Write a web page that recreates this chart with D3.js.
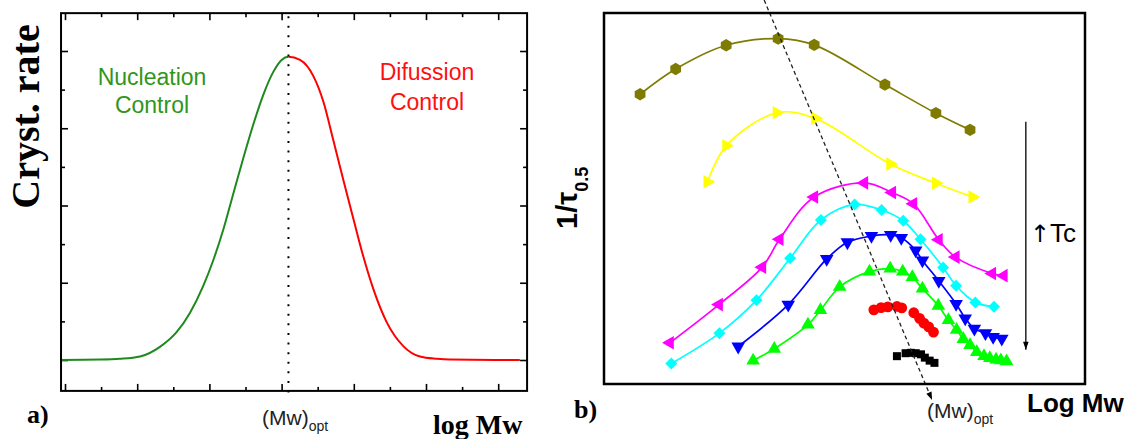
<!DOCTYPE html>
<html><head><meta charset="utf-8">
<script src="https://cdn.jsdelivr.net/npm/d3@7"></script>
<style>html,body{margin:0;padding:0;background:#fff;} svg{display:block;}</style>
</head><body>
<svg id="c" width="1132" height="439"></svg>
<script>
// ---------- Panel a) data ----------
const aXTicks = [0,1,2,3,4,5,6,7,8,9,10,11,12];
const aYTicks = [0,1,2,3,4,5,6,7,8];
const optLogMwA = 6.19;
const nuclLogMw = [-0.11,0.97,1.52,2.08,2.63,3.09,3.46,3.83,4.11,4.39,4.66,4.94,5.22,5.49,5.77,6.00,6.19];
const nuclRate  = [0,0.01,0.03,0.09,0.34,0.72,1.22,1.92,2.59,3.39,4.30,5.23,6.11,6.86,7.46,7.77,7.85];
const diffLogMw = [6.51,6.88,7.16,7.43,7.71,7.99,8.26,8.54,8.91,9.37,9.83,10.30,10.66,12.60];
const diffRate  = [7.77,7.35,6.68,5.70,4.66,3.65,2.69,1.84,0.98,0.36,0.09,0.03,0.01,0];

// ---------- Panel b) data ----------
const oliveX = [7.5,14.9,25.4,36.2,43.7,58.4,69.0,76.1];
const oliveY = [78.1,84.9,91.3,93.1,91.4,80.7,73.0,68.5];
const yellowX = [21.5,25.4,35.9,43.9,59.5,69.0,76.6];
const yellowY = [54.5,64.2,73.1,71.6,59.3,54.1,50.4];
const magentaX = [13.7,23.9,32.9,36.5,43.7,54.1,59.9,64.3,69.6,73.1,80.7,83.1];
const magentaY = [11.1,21.4,31.5,39.0,50.4,54.2,51.6,48.6,38.9,34.2,29.8,29.2];
const cyanX = [14.0,24.0,31.7,38.7,45.1,52.1,57.7,62.2,65.8,70.5,73.2,77.2,81.1];
const cyanY = [5.5,13.7,22.6,33.9,44.2,48.4,46.9,44.0,39.0,31.4,26.5,22.0,20.8];
const blueX = [27.9,38.3,46.3,50.6,55.6,59.6,61.8,64.8,66.2,69.6,73.2,75.1,77.0,79.3,80.9,82.7];
const blueY = [10.1,21.4,33.7,38.2,39.9,40.2,39.4,36.0,33.3,27.8,21.6,17.7,14.9,13.7,12.7,12.2];
const greenX = [31.0,35.4,42.4,45.0,49.0,55.2,59.5,62.1,64.1,66.2,69.5,71.6,73.3,74.7,76.1,77.5,79.0,80.2,81.5,82.5,83.7];
const greenY = [6.3,9.5,16.0,19.9,26.2,30.3,31.1,30.3,28.8,25.7,21.1,17.2,14.6,12.1,10.5,8.6,7.5,7.0,6.6,6.4,6.1];
const redX = [56.1,57.6,59.0,60.9,61.9,64.4,65.6,66.5,67.5,68.5];
const redY = [20.0,20.6,20.8,20.9,20.5,19.2,17.7,16.4,15.4,14.0];
const blackX = [60.9,62.7,63.8,64.8,65.9,66.7,67.7,68.7];
const blackY = [7.5,8.3,8.4,8.3,8.0,7.1,6.3,5.7];
const optTrendX = [33.3,68.2];
const optTrendY = [103.5,-4.3];
const tcArrowX = [87.7,87.7];
const tcArrowY = [70.7,9.2];

const svg = d3.select("#c");
svg.append("rect").attr("width",1132).attr("height",439).attr("fill","#fff");
const defs = svg.append("defs");

// =================== Panel a ===================
const xA = d3.scaleLinear().domain([0,12]).range([65,498.2]);
const yA = d3.scaleLinear().domain([0,8]).range([360,51]);
const fxA = [xA(-0.11), xA(12.8)], fyA = [yA(8.98), yA(-0.8)];
const gA = svg.append("g");

function ticksA(axisGen, vals, size, transform){
  const g = gA.append("g").attr("transform", transform)
    .call(axisGen.tickValues(vals).tickSize(size).tickFormat(""));
  g.select(".domain").remove();
  g.selectAll("line").attr("stroke","#000").attr("stroke-width",1.6);
}
const majX = aXTicks.filter((d,i)=>i%2===0), minX = aXTicks.filter((d,i)=>i%2===1);
const majY = aYTicks.filter((d,i)=>i%2===0), minY = aYTicks.filter((d,i)=>i%2===1);
ticksA(d3.axisBottom(xA), majX, -7, `translate(0,${fyA[1]})`);
ticksA(d3.axisBottom(xA), minX, -4, `translate(0,${fyA[1]})`);
ticksA(d3.axisTop(xA), majX, -7, `translate(0,${fyA[0]})`);
ticksA(d3.axisTop(xA), minX, -4, `translate(0,${fyA[0]})`);
ticksA(d3.axisLeft(yA), majY, -7, `translate(${fxA[0]},0)`);
ticksA(d3.axisLeft(yA), minY, -4, `translate(${fxA[0]},0)`);
ticksA(d3.axisRight(yA), majY, -7, `translate(${fxA[1]},0)`);
ticksA(d3.axisRight(yA), minY, -4, `translate(${fxA[1]},0)`);

// curve (one smooth path, coloured by clip on each side of the optimum)
const allX = nuclLogMw.concat(diffLogMw), allY = nuclRate.concat(diffRate);
const curvePts = allX.map((x,i)=>[x, allY[i]]);
const lineA = d3.line().x(d=>xA(d[0])).y(d=>yA(d[1])).curve(d3.curveMonotoneX);
defs.append("clipPath").attr("id","clipL").append("rect")
  .attr("x",0).attr("y",0).attr("width",xA(optLogMwA)).attr("height",439);
defs.append("clipPath").attr("id","clipR").append("rect")
  .attr("x",xA(optLogMwA)).attr("y",0).attr("width",1132).attr("height",439);
gA.append("path").datum(curvePts).attr("d",lineA).attr("fill","none")
  .attr("stroke","#1e8a1e").attr("stroke-width",2).attr("clip-path","url(#clipL)");
gA.append("path").datum(curvePts).attr("d",lineA).attr("fill","none")
  .attr("stroke","#ff0000").attr("stroke-width",2).attr("clip-path","url(#clipR)");

// dotted optimum line
gA.append("line").attr("x1",xA(optLogMwA)).attr("x2",xA(optLogMwA))
  .attr("y1",fyA[0]+3).attr("y2",400)
  .attr("stroke","#000").attr("stroke-width",2).attr("stroke-dasharray","2,7.6");

// frame
gA.append("rect").attr("x",fxA[0]).attr("y",fyA[0]).attr("width",fxA[1]-fxA[0]).attr("height",fyA[1]-fyA[0])
  .attr("fill","none").attr("stroke","#000").attr("stroke-width",2);

// texts
const sans = "'Liberation Sans', Arial, sans-serif", serif = "'Liberation Serif', 'Times New Roman', serif";
gA.append("text").attr("transform","translate(38.5,116.5) rotate(-90)").attr("text-anchor","middle")
  .attr("font-family",serif).attr("font-weight","bold").attr("font-size",40).text("Cryst. rate");
[["Nucleation",152,85],["Control",152,113]].forEach(t=>gA.append("text").attr("x",t[1]).attr("y",t[2])
  .attr("text-anchor","middle").attr("font-family",sans).attr("font-size",23).attr("fill","#2f9620").text(t[0]));
[["Difussion",427,80],["Control",427,110]].forEach(t=>gA.append("text").attr("x",t[1]).attr("y",t[2])
  .attr("text-anchor","middle").attr("font-family",sans).attr("font-size",23).attr("fill","#ff1010").text(t[0]));
gA.append("text").attr("x",27).attr("y",423).attr("font-family",serif).attr("font-weight","bold")
  .attr("font-size",26).text("a)");
const oa = gA.append("text").attr("x",262).attr("y",425).attr("font-family",sans).attr("font-size",21).attr("fill","#222");
oa.append("tspan").text("(Mw)");
oa.append("tspan").attr("font-size",14).attr("dy",6).text("opt");
gA.append("text").attr("x",433).attr("y",434).attr("font-family",serif).attr("font-weight","bold")
  .attr("font-size",28).text("log Mw");

// =================== Panel b ===================
const xB = d3.scaleLinear().domain([0,100]).range([604,1085]);
const yB = d3.scaleLinear().domain([0,100]).range([384,13]);
const gB = svg.append("g");
const lineB = d3.line().x(d=>xB(d[0])).y(d=>yB(d[1])).curve(d3.curveCatmullRom.alpha(0.5));

function hexPath(r){
  const p = d3.range(6).map(k=>{const a=(-90+60*k)*Math.PI/180;return [r*Math.cos(a), r*Math.sin(a)];});
  return "M"+p.map(q=>q.join(",")).join("L")+"Z";
}
const tri = d3.symbol().type(d3.symbolTriangle).size(80)();
const dia = d3.symbol().type(d3.symbolSquare).size(72)();
const sq = d3.symbol().type(d3.symbolSquare).size(64)();
const circ = d3.symbol().type(d3.symbolCircle).size(92)();

const series = [
  {x:oliveX, y:oliveY, color:"#7f7a00", line:true, shape:hexPath(6.2), rot:0},
  {x:yellowX, y:yellowY, color:"#ffff00", line:true, shape:tri, rot:90},
  {x:magentaX, y:magentaY, color:"#ff00ff", line:true, shape:tri, rot:-90},
  {x:cyanX, y:cyanY, color:"#00ffff", line:true, shape:dia, rot:45},
  {x:blueX, y:blueY, color:"#0000ff", line:true, shape:tri, rot:180},
  {x:greenX, y:greenY, color:"#00ff00", line:true, shape:tri, rot:0},
  {x:redX, y:redY, color:"#ff0000", line:false, shape:circ, rot:0},
  {x:blackX, y:blackY, color:"#000000", line:false, shape:sq, rot:0}
];
series.forEach(s=>{
  const pts = s.x.map((x,i)=>[x, s.y[i]]);
  if (s.line) gB.append("path").datum(pts).attr("d",lineB).attr("fill","none")
    .attr("stroke",s.color).attr("stroke-width",1.7);
  gB.selectAll(null).data(pts).enter().append("path").attr("d",s.shape)
    .attr("transform",d=>`translate(${xB(d[0])},${yB(d[1])}) rotate(${s.rot})`)
    .attr("fill",s.color);
});

// arrow markers
defs.append("marker").attr("id","ah").attr("viewBox","0 -5 10 10").attr("refX",10).attr("refY",0)
  .attr("markerUnits","userSpaceOnUse").attr("markerWidth",10).attr("markerHeight",8).attr("orient","auto")
  .append("path").attr("d","M0,-3.5L10,0L0,3.5Z").attr("fill","#000");

// optimum trend line (dashed, arrow)
gB.append("line").attr("x1",xB(optTrendX[0])).attr("y1",yB(optTrendY[0]))
  .attr("x2",xB(optTrendX[1])).attr("y2",yB(optTrendY[1]))
  .attr("stroke","#222").attr("stroke-width",1.3).attr("stroke-dasharray","4,3").attr("marker-end","url(#ah)");

// Tc arrow
gB.append("line").attr("x1",xB(tcArrowX[0])).attr("y1",yB(tcArrowY[0]))
  .attr("x2",xB(tcArrowX[1])).attr("y2",yB(tcArrowY[1]))
  .attr("stroke","#000").attr("stroke-width",1.3).attr("marker-end","url(#ah)");
const tc = gB.append("text").attr("x",1030).attr("y",242).attr("font-family",sans).attr("font-size",26);
tc.append("tspan").attr("font-family","'DejaVu Sans', sans-serif").attr("font-size",24).text("↑");
tc.append("tspan").text("Tc");

// frame
gB.append("rect").attr("x",xB(0)).attr("y",yB(100)).attr("width",xB(100)-xB(0)).attr("height",yB(0)-yB(100))
  .attr("fill","none").attr("stroke","#000").attr("stroke-width",2.5);

// texts
const yl = gB.append("text").attr("transform","translate(577,229) rotate(-90)")
  .attr("font-family",sans).attr("font-weight","bold").attr("font-size",29);
yl.append("tspan").text("1/τ");
yl.append("tspan").attr("font-size",18).attr("dy",11).text("0.5");
gB.append("text").attr("x",574).attr("y",418).attr("font-family",serif).attr("font-weight","bold")
  .attr("font-size",26).text("b)");
const ob = gB.append("text").attr("x",927).attr("y",418).attr("font-family",sans).attr("font-size",21).attr("fill","#222");
ob.append("tspan").text("(Mw)");
ob.append("tspan").attr("font-size",14).attr("dy",6).text("opt");
gB.append("text").attr("x",1027).attr("y",412).attr("font-family",sans).attr("font-weight","bold")
  .attr("font-size",26).text("Log Mw");
</script>
</body></html>
